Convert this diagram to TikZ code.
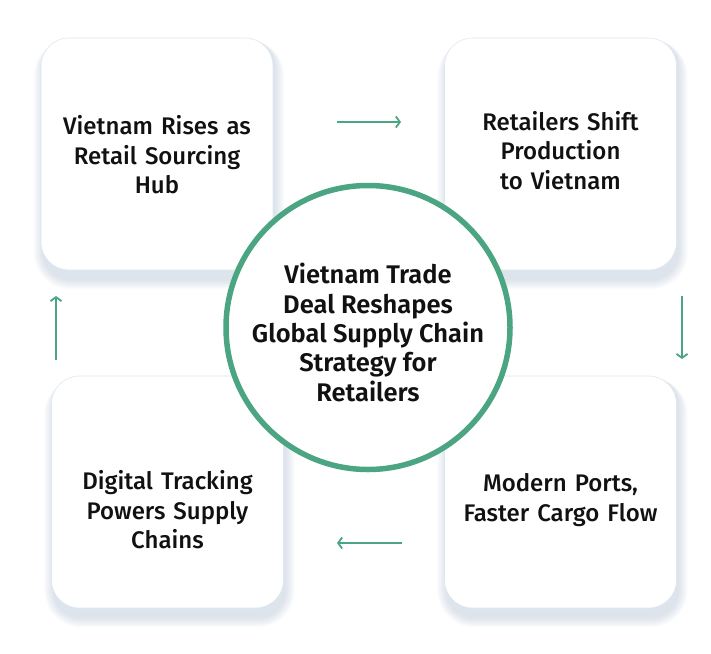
\documentclass[tikz,border=0pt]{standalone}
\usepackage{fontspec}
\setmainfont{Fira Sans}
\newfontfamily\cardfont{Fira Sans Medium}
\newfontfamily\hubfont{Fira Sans SemiBold}
\usepackage{tikz}
\usetikzlibrary{arrows.meta, backgrounds, calc, positioning}
\usepackage{xcolor}
\definecolor{Teal}{RGB}{75, 165, 131}
\definecolor{InkBlack}{RGB}{17, 17, 17}
\definecolor{PaleEdge}{RGB}{220, 232, 242}
\definecolor{ShadowBlue}{RGB}{150, 172, 196}
\tikzset{%
  card/.style={%
    rectangle,%
    rounded corners=28pt,%
    minimum width=232pt,%
    minimum height=232pt,%
    draw=PaleEdge,%
    line width=0.6pt,%
    fill=white%
  },
  cardtext/.style={%
    font={\cardfont\fontsize{24}{29.5}\selectfont},%
    text=InkBlack,%
    text width=226pt,%
    align=center%
  },
  haze/.style={%
    fill=ShadowBlue,%
    opacity=0.03%
  },
  hub/.style={%
    circle,%
    minimum size=284pt,%
    draw=Teal,%
    line width=5.5pt,%
    fill=white%
  },
  hubtext/.style={%
    font={\hubfont\fontsize{25.5}{29.3}\selectfont},%
    text=InkBlack,%
    align=center%
  },
  flow/.style={%
    color=Teal,%
    line width=1.8pt,%
    -{Straight Barb[length=4pt, width=11pt]}%
  },
}
\begin{document}
\begin{tikzpicture}[x=1pt, y=-1pt]
  \useasboundingbox (0,0) rectangle (711,653);

  \node[card] (TL) at (157,154) {};
  \node[card] (TR) at (560.5,154) {};
  \node[card] (BR) at (560.5,492) {};
  \node[card] (BL) at (167.5,492) {};

  \node[cardtext] (TLtext) at ([yshift=-1pt]TL.center) {Vietnam Rises as\\Retail Sourcing\\Hub};
  \node[cardtext] (TRtext) at ([yshift=3.5pt]TR.center) {Retailers Shift\\Production\\to Vietnam};
  \node[cardtext] (BRtext) at ([yshift=-8pt]BR.center) {Modern Ports,\\Faster Cargo Flow};
  \node[cardtext] (BLtext) at ([yshift=-18pt]BL.center) {Digital Tracking\\Powers Supply\\Chains};

  \node[hub] (C) at (368,327.5) {};
  \node[hubtext] (Ctext) at ([yshift=-5pt]C.center) {Vietnam Trade\\Deal Reshapes\\Global Supply Chain\\Strategy for\\Retailers};

  % soft shadow under the cards
  \begin{scope}[on background layer]
    \fill[white] (0,0) rectangle (711,653);
    \foreach \n in {TL,TR,BR,BL} {
      \foreach \k in {0,...,9} {
        \fill[haze, rounded corners=28pt+\k pt]
          ([xshift=-\k pt+2pt, yshift=-10pt-\k pt]\n.south west)
          rectangle ([xshift=\k pt+2pt, yshift=-2pt]\n.north east);
      }
    }
  \end{scope}

  % arrow ends between the cards
  \coordinate (TopA) at (337,122);
  \coordinate (TopB) at (401,122);
  \coordinate (RightA) at (682,296);
  \coordinate (RightB) at (682,359);
  \coordinate (BotA) at (402,543);
  \coordinate (BotB) at (337,543);
  \coordinate (LeftA) at (56,360);
  \coordinate (LeftB) at (56,296);

  \draw[flow] (TopA) -- (TopB);
  \draw[flow] (RightA) -- (RightB);
  \draw[flow] (BotA) -- (BotB);
  \draw[flow] (LeftA) -- (LeftB);

\end{tikzpicture}
\end{document}
